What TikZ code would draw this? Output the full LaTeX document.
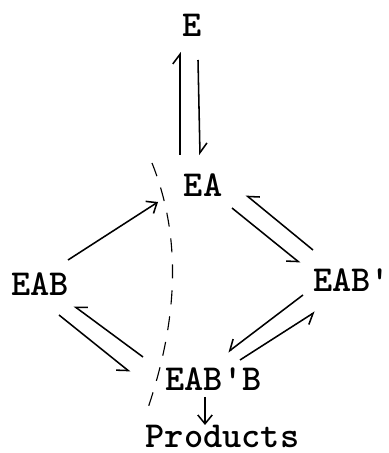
\documentclass[tikz,border=0pt]{standalone}
\usetikzlibrary{arrows.meta}

\begin{document}
\begin{tikzpicture}[
  x=0.25mm, y=0.25mm,
  species/.style={font={\ttfamily\bfseries\fontsize{26}{30}\selectfont}, inner sep=0pt},
  fwd/.style={-{Straight Barb[length=2.2mm,width=3.6mm]}, line width=1.1pt},
  % half arrow heads, kept on the outer side of each pair
  harpL/.style={-{Straight Barb[left,length=2.4mm,width=3.6mm]}, line width=1.1pt},
  harpR/.style={-{Straight Barb[right,length=2.4mm,width=3.6mm]}, line width=1.1pt},
  divide/.style={dash pattern=on 3.5mm off 3mm, line width=0.8pt},
  ]
  \useasboundingbox (0,0) rectangle (389,453);
  % Species
  \node[species] (e) at (192,428) {E};
  \node[species] (ea) at (203,268) {EA};
  \node[species] (eab) at (40,169) {EAB};
  \node[species, anchor=west] (eabp) at (313,173) {EAB\textquotesingle};
  \node[species] (eabpb) at (213.5,74) {EAB\textquotesingle B};
  \node[species] (prod) at (222.5,17) {Products};
  % E <=> EA
  \draw[harpL] ([shift={(-23,30)}]ea.center) -- ([shift={(-12,-27)}]e.center);
  \draw[harpL] ([shift={(6,-35)}]e.center) -- ([shift={(-3,30)}]ea.center);
  % EAB -> EA
  \draw[fwd] ([shift={(28,24)}]eab.center) -- ([shift={(-45,-17)}]ea.center);
  % EAB <=> EAB'B
  \draw[harpR] ([shift={(-70.5,22)}]eabpb.center) -- ([shift={(34,-22)}]eab.center);
  \draw[harpR] ([shift={(19,-31)}]eab.center) -- ([shift={(-83.5,7)}]eabpb.center);
  % EA <=> EAB'
  \draw[harpR] ([shift={(0,30)}]eabp.west) -- ([shift={(43,-10)}]ea.center);
  \draw[harpR] ([shift={(29,-23)}]ea.center) -- ([shift={(-13,17)}]eabp.west);
  % EAB' <=> EAB'B
  \draw[harpR] ([shift={(-10,-15)}]eabp.west) -- ([shift={(14.5,27)}]eabpb.center);
  \draw[harpR] ([shift={(26.5,19)}]eabpb.center) -- ([shift={(2,-32)}]eabp.west);
  % EAB'B -> Products
  \draw[fwd] ([shift={(-8.5,-18)}]eabpb.center) -- ([shift={(-17.5,11)}]prod.center);
  % Dividing curve
  \draw[divide] (152,290) .. controls (180,220) and (180,140) .. (148,45);
\end{tikzpicture}
\end{document}
